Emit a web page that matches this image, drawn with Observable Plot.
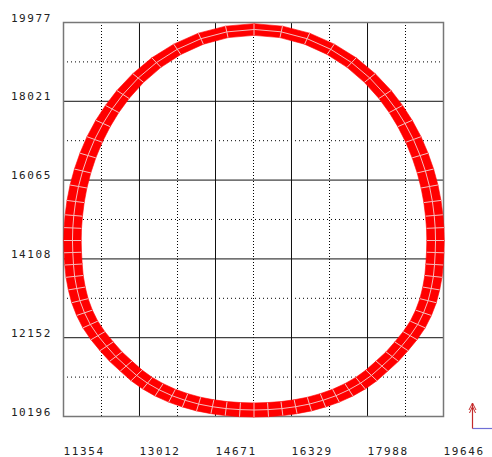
<!DOCTYPE html>
<html><head><meta charset="utf-8">
<script src="https://cdn.jsdelivr.net/npm/d3@7"></script>
<script src="https://cdn.jsdelivr.net/npm/@observablehq/plot@0.6"></script>
<style>
body{margin:0;background:#fff;}
#chart{position:relative;width:492px;height:457px;}
</style></head><body><div id="chart"></div>
<script>
// Axis tick labels (major grid) and minor (dotted) grid positions
const xTicks = [11354, 13012, 14671, 16329, 17988, 19646];
const yTicks = [10196, 12152, 14108, 16065, 18021, 19977];
const xMinor = [12183, 13842, 15500, 17159, 18817];
const yMinor = [11174, 13130, 15087, 17043, 18999];

// Ring element centre-line nodes (from top, down the left side, along the bottom, up the right side)
const nodeX = [15511, 14917, 14352, 13837, 13381, 12984, 12652, 12415, 12216, 12033, 11886, 11771, 11681, 11618, 11579, 11557, 11550, 11557, 11572, 11596, 11644, 11712, 11812, 11939, 12105, 12295, 12495, 12720, 12949, 13187, 13440, 13722, 14007, 14302, 14603, 14902, 15205, 15511,
  15817, 16120, 16419, 16720, 17015, 17300, 17582, 17835, 18073, 18302, 18527, 18727, 18917, 19083, 19210, 19310, 19378, 19426, 19450, 19465, 19472, 19465, 19443, 19404, 19341, 19251, 19136, 18989, 18806, 18607, 18370, 18038, 17641, 17185, 16670, 16105];
const nodeY = [19803, 19744, 19575, 19312, 18982, 18599, 18190, 17830, 17470, 17073, 16675, 16291, 15906, 15533, 15186, 14876, 14565, 14267, 13969, 13674, 13374, 13071, 12770, 12480, 12202, 11939, 11683, 11447, 11216, 11023, 10859, 10712, 10598, 10504, 10439, 10392, 10367, 10357,
  10367, 10392, 10439, 10504, 10598, 10712, 10859, 11023, 11216, 11447, 11683, 11939, 12202, 12480, 12770, 13071, 13374, 13674, 13969, 14267, 14565, 14876, 15186, 15533, 15906, 16291, 16675, 17073, 17470, 17830, 18190, 18599, 18982, 19312, 19575, 19744];
// Ring thickness at each node
const thickness = [290, 290, 295, 300, 310, 320, 330, 340, 350, 360, 365, 370, 375, 378, 380, 380, 380, 380, 380, 378, 375, 372, 368, 365, 362, 360, 358, 356, 355, 354, 352, 350, 350, 350, 350, 350, 350, 350,
  350, 350, 350, 350, 350, 350, 352, 354, 355, 356, 358, 360, 362, 365, 368, 372, 375, 378, 380, 380, 380, 380, 380, 378, 375, 370, 365, 360, 350, 340, 330, 320, 310, 300, 295, 290];

const n = nodeX.length;
const rows = nodeX.map((x, i) => ({x, y: nodeY[i], t: thickness[i]}));
const nodes = rows.map((p, i) => {
  const a = rows[(i - 1 + n) % n], b = rows[(i + 1) % n];
  let tx = b.x - a.x, ty = b.y - a.y;
  const L = Math.hypot(tx, ty); tx /= L; ty /= L;
  const nx = ty, ny = -tx, h = p.t / 2;
  return {mx: p.x, my: p.y, ox: p.x + nx * h, oy: p.y + ny * h, ix: p.x - nx * h, iy: p.y - ny * h};
});
const cells = [];
for (let i = 0; i < n; i++) {
  const a = nodes[i], b = nodes[(i + 1) % n];
  cells.push({id: i, x: a.ox, y: a.oy}, {id: i, x: b.ox, y: b.oy}, {id: i, x: b.ix, y: b.iy}, {id: i, x: a.ix, y: a.iy});
}

const pink = "#f6bcbc";
const plot = Plot.plot({
  width: 492, height: 457,
  marginLeft: 63, marginRight: 49, marginTop: 22, marginBottom: 41,
  x: {domain: [xTicks[0], xTicks[xTicks.length - 1]]},
  y: {domain: [yTicks[0], yTicks[yTicks.length - 1]]},
  style: {fontFamily: "'DejaVu Sans Mono', monospace", fontSize: "11px", background: "white", letterSpacing: "1.6px", overflow: "visible"},
  marks: [
    Plot.ruleX(xMinor, {stroke: "#000", strokeDasharray: "1,2", strokeWidth: 1}),
    Plot.ruleY(yMinor, {stroke: "#000", strokeDasharray: "1,3", strokeWidth: 1}),
    Plot.ruleX(xTicks.slice(1, -1), {stroke: "#111", strokeWidth: 1}),
    Plot.ruleY(yTicks.slice(1, -1), {stroke: "#111", strokeWidth: 1}),
    Plot.frame({stroke: "#777", strokeWidth: 1.5}),
    Plot.line(cells, {x: "x", y: "y", z: "id", curve: "linear-closed", fill: "#ff0000", stroke: "#ff0000", strokeWidth: 0.6}),
    Plot.line(nodes, {x: "mx", y: "my", curve: "linear-closed", stroke: pink, strokeWidth: 1}),
    Plot.link(nodes, {x1: "ox", y1: "oy", x2: "ix", y2: "iy", stroke: pink, strokeWidth: 1}),
    Plot.axisX(xTicks, {tickSize: 0, tickPadding: 31, textAnchor: "start", lineAnchor: "top", fill: "#222", tickFormat: d => String(d)}),
    Plot.axisY(yTicks, {tickSize: 0, tickPadding: 11.5, lineAnchor: "bottom", dy: -1, fill: "#222", tickFormat: d => String(d)})
  ]
});
document.getElementById("chart").appendChild(plot);

// small global-axes glyph in the bottom-right corner
const g = d3.select(plot).append("g").attr("fill", "none");
g.append("path").attr("d", "M472.5,428.5H492").attr("stroke", "#6f6fd6").attr("stroke-width", 1.2);
g.append("path").attr("d", "M472.5,428.5V403").attr("stroke", "#c42a2a").attr("stroke-width", 1.2);
g.append("path").attr("d", "M469,410L472.5,403L476,410M469.5,413L472.5,406.5L475.5,413").attr("stroke", "#c42a2a").attr("stroke-width", 1);
</script>
</body></html>
